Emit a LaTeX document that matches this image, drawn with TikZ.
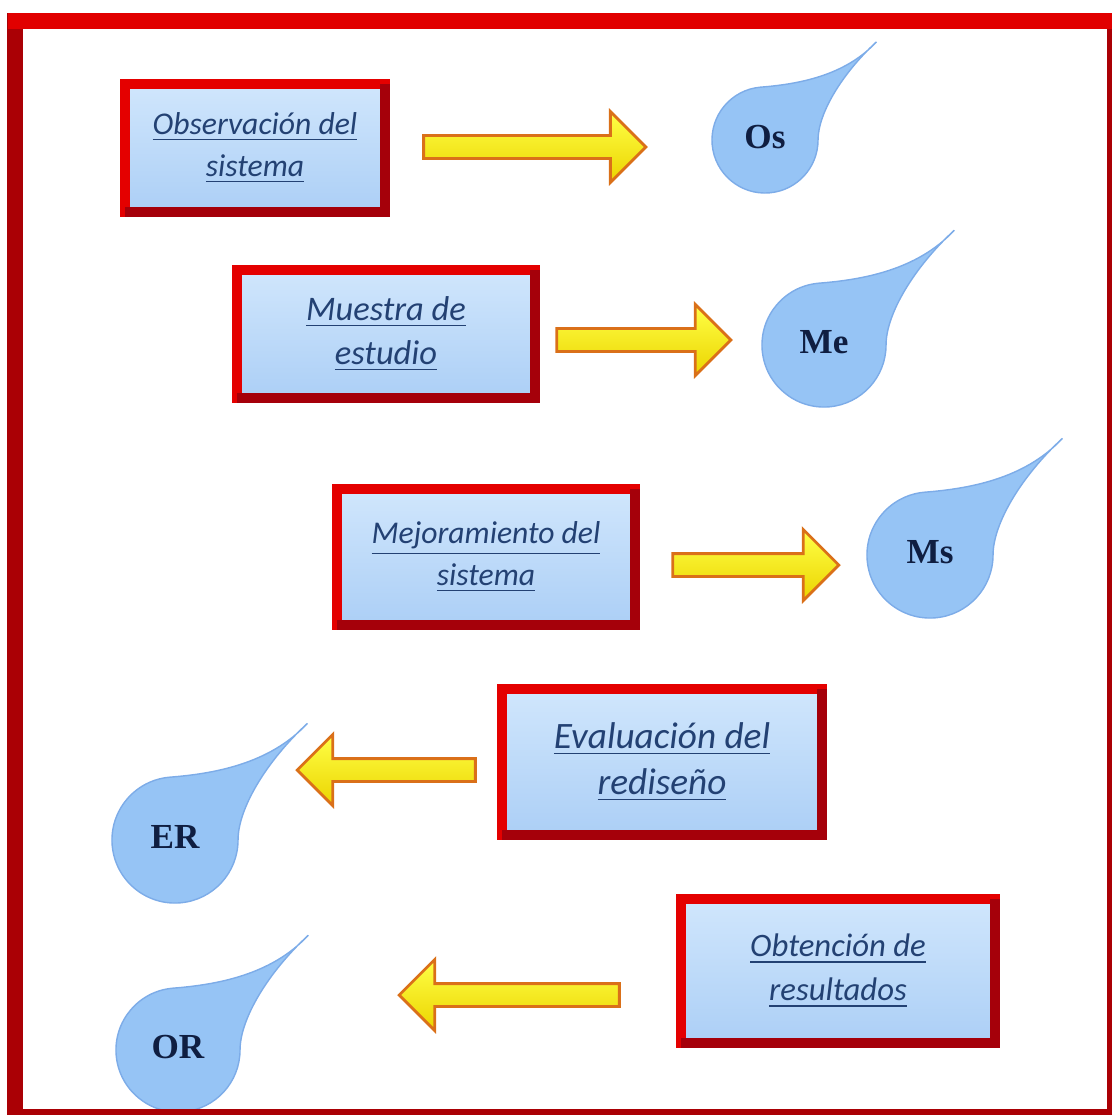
\documentclass[tikz,border=0pt]{standalone}
\usepackage{fontspec}
\usepackage{tikz}
\usetikzlibrary{shapes.arrows}
\newfontfamily\boxfont{Carlito}
\newfontfamily\dropfont{Liberation Serif}

\definecolor{framered}{RGB}{225,0,0}
\definecolor{framedark}{RGB}{170,0,5}
\definecolor{boxred}{RGB}{228,0,0}
\definecolor{boxdark}{RGB}{165,0,10}
\definecolor{boxtop}{RGB}{208,230,252}
\definecolor{boxbot}{RGB}{172,207,246}
\definecolor{boxtext}{RGB}{35,65,115}
\definecolor{dropfill}{RGB}{150,196,245}
\definecolor{dropedge}{RGB}{125,172,232}
\definecolor{droptext}{RGB}{15,30,65}
\definecolor{arrowedge}{RGB}{218,112,25}
\definecolor{arrowtop}{RGB}{255,255,70}
\definecolor{arrowbot}{RGB}{235,212,0}

\tikzset{
  stage/.style={draw=boxred, line width=0.1cm, outer sep=0pt,
    top color=boxtop, bottom color=boxbot, align=center, text=boxtext,
    font=\boxfont\itshape\fontsize{9}{12}\selectfont},
  stageshade/.style={draw=boxdark, line width=0.1cm},
  yarrow/.style={single arrow, draw=arrowedge, line width=0.8pt,
    top color=arrowtop, bottom color=arrowbot,
    single arrow tip angle=90, single arrow head extend=0.24cm,
    inner xsep=0pt, inner ysep=0.1cm, minimum width=0.2cm},
  drop/.style={fill=dropfill, draw=dropedge, line width=0.4pt},
  droplabel/.style={text=droptext, font=\dropfont\bfseries\fontsize{10}{12}\selectfont}
}

% water drop: name, centre, radius (cm), label
\newcommand{\waterdrop}[4]{%
  \begin{scope}[shift={#2}, x=#3cm, y=#3cm]
    \filldraw[drop] (2.1,1.85) .. controls (1.5,1.2) and (0.6,1.05) .. (95:1)
      arc[start angle=95, end angle=360, radius=1]
      .. controls (1.0,0.5) and (1.45,1.25) .. cycle;
    \node[droplabel] (#1) at (0,0.05) {#4};
  \end{scope}}

\begin{document}
\begin{tikzpicture}[x=0.01cm, y=-0.01cm]
    \useasboundingbox (0,0) rectangle (1112,1115);

    % stages
    \node[stage, minimum width=2.60cm, minimum height=1.27cm] (obs) at (255,148)
        {\underline{Observación del}\\\underline{sistema}};
    \node[stage, minimum width=2.98cm, minimum height=1.28cm,
        font=\boxfont\itshape\fontsize{9.8}{12.5}\selectfont] (mue) at (386,334)
        {\underline{Muestra de}\\\underline{estudio}};
    \node[stage, minimum width=2.97cm, minimum height=1.35cm] (mej) at (486,557)
        {\underline{Mejoramiento del}\\\underline{sistema}};
    \node[stage, minimum width=3.19cm, minimum height=1.45cm,
        font=\boxfont\itshape\fontsize{10.6}{13}\selectfont] (eva) at (662,762)
        {\underline{Evaluación del}\\\underline{rediseño}};
    \node[stage, minimum width=3.13cm, minimum height=1.43cm,
        font=\boxfont\itshape\fontsize{9.3}{12.5}\selectfont] (obt) at (838,971)
        {\underline{Obtención de}\\\underline{resultados}};
    \foreach \b in {obs,mue,mej,eva,obt}
        \draw[stageshade] (\b.north east) -- (\b.south east) -- (\b.south west);

    % arrows
    \node[yarrow, minimum height=2.22cm] (a1) at (529,147) {};
    \node[yarrow, minimum height=1.74cm] (a2) at (638,340) {};
    \node[yarrow, minimum height=1.66cm] (a3) at (750,565) {};
    \node[yarrow, minimum height=1.78cm, shape border rotate=180] (a4) at (392,770) {};
    \node[yarrow, minimum height=2.20cm, shape border rotate=180] (a5) at (515,995) {};

    % drops
    \waterdrop{dos}{(765,140)}{0.53}{Os}
    \waterdrop{dme}{(824,345)}{0.62}{Me}
    \waterdrop{dms}{(930,555)}{0.63}{Ms}
    \waterdrop{der}{(175,840)}{0.63}{ER}
    \waterdrop{dor}{(178,1050)}{0.62}{OR}

    % frame
    \draw[framedark, line width=0.15cm] (15,21) rectangle (1114,1116);
    \draw[framered, line width=0.16cm] (8,21) -- (1112,21);
\end{tikzpicture}
\end{document}
